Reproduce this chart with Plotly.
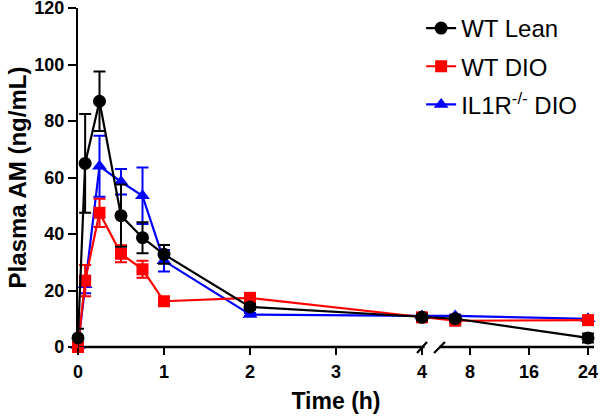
import plotly.graph_objects as go

# ---- data ----
time_h = [0, 0.083, 0.25, 0.5, 0.75, 1, 2, 4, 6, 24]
wt_lean = [3.2, 65, 87, 46.5, 38.7, 32.8, 14.2, 10.5, 10, 3.2]
wt_lean_err = [3.3, 17.5, 10.5, 11, 5.5, 3.3, 1, 1, 1, 1.6]
wt_dio = [0, 23.5, 47.5, 33, 27.5, 16.2, 17.4, 10.5, 9.3, 9.5]
wt_dio_err = [0.5, 5.5, 5, 3, 3, 0.5, 0.8, 0.8, 0.8, 0.8]
il1r_dio = [0.5, 22, 64, 58.5, 53.5, 30.5, 11.5, 11, 11, 10]
il1r_dio_err = [0.5, 3, 10.8, 4.5, 10, 3.8, 0.5, 0.5, 0.5, 0.5]

xtick_hours = [0, 1, 2, 3, 4, 8, 16, 24]
xtick_labels = ["0", "1", "2", "3", "4", "8", "16", "24"]
ytick_vals = [0, 20, 40, 60, 80, 100, 120]

# ---- broken axis transform ----
SEG1_END = 4.0
SEG2_U0 = 4.215
SEG2_SCALE = 0.08576


def xpos(t):
    return t if t <= SEG1_END else SEG2_U0 + (t - SEG1_END) * SEG2_SCALE


xu = [xpos(t) for t in time_h]
xticks_u = [xpos(t) for t in xtick_hours]
X_MAX = 6.0

fig = go.Figure()

series = [
    ("IL1R<sup>-/-</sup> DIO", il1r_dio, il1r_dio_err, "#0000FF", "triangle-up", 13, 3),
    ("WT DIO", wt_dio, wt_dio_err, "#FF0000", "square", 12, 2),
    ("WT Lean", wt_lean, wt_lean_err, "#000000", "circle", 13, 1),
]
for name, vals, errs, col, sym, sz, rank in series:
    fig.add_trace(go.Scatter(
        x=xu, y=vals, name=name, mode="lines+markers",
        line=dict(color=col, width=2.2),
        marker=dict(symbol=sym, size=sz, color=col),
        error_y=dict(type="data", array=errs, color=col, thickness=2, width=6),
        cliponaxis=False, legendgroup=name, legendrank=rank,
    ))

# broken x-axis line and break marks
fig.add_shape(type="line", xref="x", yref="paper", x0=0, x1=4.03, y0=0, y1=0,
              line=dict(color="black", width=2.4), layer="below")
fig.add_shape(type="line", xref="x", yref="paper", x0=4.20, x1=X_MAX, y0=0, y1=0,
              line=dict(color="black", width=2.4), layer="below")
fig.add_shape(type="line", xref="x", yref="paper", x0=3.942, x1=4.058, y0=-0.0176, y1=0.0147,
              line=dict(color="black", width=2.2))
fig.add_shape(type="line", xref="x", yref="paper", x0=4.14, x1=4.267, y0=-0.0176, y1=0.0147,
              line=dict(color="black", width=2.2))

FONT = "Liberation Sans, Arial, sans-serif"
bold = dict(family=FONT, size=18, color="black", weight="bold")

fig.update_layout(
    width=600, height=418,
    margin=dict(l=78, r=6, t=8, b=71, autoexpand=False),
    plot_bgcolor="white", paper_bgcolor="white",
    showlegend=True,
    legend=dict(x=0.665, y=1.006, xanchor="left", yanchor="top",
                font=dict(family=FONT, size=24, color="black"),
                tracegroupgap=4, bgcolor="rgba(0,0,0,0)"),
    xaxis=dict(range=[0, X_MAX], showline=False, showgrid=False, zeroline=False,
               automargin=False, ticklabeloverflow="allow",
               tickmode="array", tickvals=xticks_u, ticktext=xtick_labels,
               ticks="outside", ticklen=7, tickwidth=2.2, tickcolor="black",
               ticklabelstandoff=1, tickfont=bold,
               title=dict(text="Time (h)", font=dict(family=FONT, size=23, color="black", weight="bold"),
                          standoff=12)),
    yaxis=dict(range=[0, 120], showline=True, linecolor="black", linewidth=2.4,
               showgrid=False, zeroline=False, layer="below traces",
               automargin=False, ticklabeloverflow="allow",
               tickmode="array", tickvals=ytick_vals,
               ticks="outside", ticklen=8, tickwidth=2.2, tickcolor="black",
               ticklabelstandoff=0, tickfont=bold,
               title=dict(text="Plasma AM (ng/mL)", font=dict(family=FONT, size=24, color="black", weight="bold"),
                          standoff=1)),
)

fig.write_html("out.html", config={"displayModeBar": False},
               post_script="document.body.style.margin='0px';")
